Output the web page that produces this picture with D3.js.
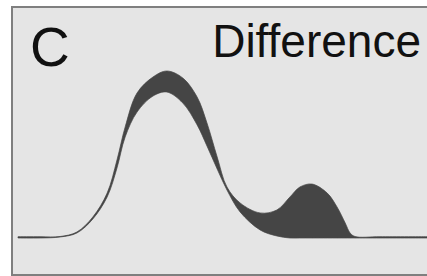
<!DOCTYPE html>
<html>
<head>
<meta charset="utf-8">
<script src="https://cdn.jsdelivr.net/npm/d3@7"></script>
<style>
  body { margin: 0; background: #fff; }
  svg { display: block; }
</style>
</head>
<body>
<svg id="chart"></svg>
<script>
// sample positions along the x axis
const xs = [0, 5.4, 10.3, 14.4, 18.3, 21.8, 24.2, 26.2, 29.1, 33.0, 36.4, 40.3, 43.8, 46.2,
            48.7, 51.1, 54.3, 59.2, 63.3, 66.5, 68.9, 71.9, 75.6, 78.0, 80.0, 81.2, 82.4, 88.5, 100];
// upper density (bimodal)
const upper = [0.008, 0.008, 0.009, 0.036, 0.126, 0.269, 0.467, 0.665, 0.868, 0.964, 1.0, 0.958, 0.844, 0.689,
               0.485, 0.305, 0.210, 0.150, 0.168, 0.246, 0.305, 0.323, 0.269, 0.186, 0.090, 0.030, 0.009, 0.008, 0.008];
// lower density (unimodal)
const lower = [0, 0, 0.006, 0.030, 0.114, 0.246, 0.419, 0.605, 0.754, 0.850, 0.874, 0.808, 0.677, 0.551,
               0.413, 0.287, 0.156, 0.048, 0.012, 0, 0, 0, 0, 0, 0, 0, 0, 0, 0];
const panelLabel = "C";
const title = "Difference";

const width = 427, height = 276;
const svg = d3.select("#chart")
    .attr("width", width)
    .attr("height", height);

// panel background, runs past the right edge like the original
svg.append("rect")
    .attr("x", 12)
    .attr("y", 7)
    .attr("width", 480)
    .attr("height", 268)
    .attr("fill", "#e5e5e5")
    .attr("stroke", "#7f7f7f")
    .attr("stroke-width", 2);

const x = d3.scaleLinear().domain([0, 100]).range([18, 427]);
const y = d3.scaleLinear().domain([0, 1]).range([238, 71]);

const data = xs.map((d, i) => ({ x: d, lo: lower[i], hi: upper[i] }));

const area = d3.area()
    .x(d => x(d.x))
    .y0(d => y(d.lo))
    .y1(d => y(d.hi))
    .curve(d3.curveCatmullRom.alpha(0.5));

svg.append("path")
    .datum(data)
    .attr("d", area)
    .attr("fill", "#454545")
    .attr("stroke", "#454545")
    .attr("stroke-width", 0.7);

svg.append("text")
    .attr("x", 30)
    .attr("y", 66)
    .style("font-family", "'Liberation Sans', Arial, sans-serif")
    .style("font-size", "55px")
    .style("fill", "#111")
    .text(panelLabel);

svg.append("text")
    .attr("x", 421)
    .attr("y", 57)
    .attr("text-anchor", "end")
    .style("font-family", "'Liberation Sans', Arial, sans-serif")
    .style("font-size", "46px")
    .style("fill", "#111")
    .text(title);
</script>
</body>
</html>
